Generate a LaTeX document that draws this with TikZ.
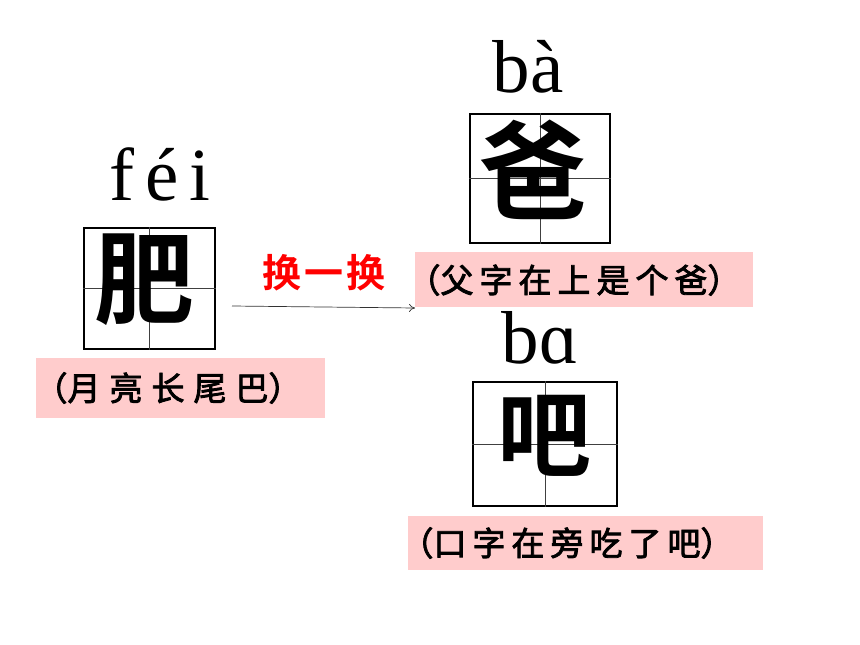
\documentclass[tikz,border=0pt]{standalone}
\usepackage{fontspec}
\usetikzlibrary{arrows.meta}
\setmainfont{Liberation Serif}
\newfontfamily\cjk[FakeBold=2.5]{Noto Sans CJK SC}
\newfontfamily\cjkb{Noto Sans CJK SC Bold}
\definecolor{pinkbg}{RGB}{255,204,204}
\definecolor{redtxt}{RGB}{255,0,0}
\newcommand{\gapA}{\hspace{9pt}}
\newcommand{\gapB}{\hspace{6pt}}
\begin{document}
\begin{tikzpicture}[x=1pt,y=-1pt,
  gridbox/.style={draw=black,line width=1.8pt,inner sep=0pt},
  gridline/.style={draw=black!75,line width=0.9pt},
  bigchar/.style={font=\cjkb\fontsize{100}{100}\selectfont,inner sep=0pt},
  pinyin/.style={font=\fontsize{75}{75}\selectfont,inner sep=0pt,anchor=base},
  hintbox/.style={fill=pinkbg,inner sep=0pt},
  hint/.style={font=\cjk\fontsize{33}{33}\selectfont,inner sep=0pt},
  swap/.style={font=\cjkb\fontsize{39}{39}\selectfont,text=redtxt,inner sep=0pt},
  conn/.style={draw=black!80,line width=0.7pt,-{To[length=6pt,width=8pt]}}]
\useasboundingbox (0,0) rectangle (860,645);

% left: fei
\node[pinyin] (pyfei) at (160,200) {f\hspace{11pt}é\hspace{11pt}i};
\node[gridbox,minimum width=131pt,minimum height=121pt] (gfei) at (149.5,288.5) {};
\draw[gridline] (gfei.north) -- (gfei.south);
\draw[gridline] (gfei.west) -- (gfei.east);
\node[bigchar] (cfei) at (144,280) {肥};
\node[hintbox,minimum width=289pt,minimum height=60pt] (hfei) at (180.5,388) {};
\node[hint] (tfei) at (168,388) {（月\gapA 亮\gapA 长\gapA 尾\gapA 巴）};

% swap label and arrow
\node[swap] (swapl) at (324,273) {换\hspace{3pt}一\hspace{3pt}换};
\coordinate (arrs) at (232,306);
\coordinate (arre) at (415,308);
\draw[conn] (arrs) -- (arre);

% top right: ba4
\node[pinyin] (pyba) at (528,92) {bà};
\node[gridbox,minimum width=140pt,minimum height=129pt] (gba) at (540,178.5) {};
\draw[gridline] (gba.north) -- (gba.south);
\draw[gridline] (gba.west) -- (gba.east);
\node[bigchar,font=\cjkb\fontsize{108}{108}\selectfont] (cba) at (533,170) {爸};
\node[hintbox,minimum width=338pt,minimum height=55pt] (hba) at (584,279.5) {};
\node[hint] (tba) at (574,280) {（父\gapB 字\gapB 在\gapB 上\gapB 是\gapB 个\gapB 爸）};

% bottom right: ba
\node[pinyin] (pyba2) at (540,363) {bɑ};
\node[gridbox,minimum width=144pt,minimum height=124pt] (gba2) at (545,444) {};
\draw[gridline] (gba2.north) -- (gba2.south);
\draw[gridline] (gba2.west) -- (gba2.east);
\node[bigchar,font=\cjkb\fontsize{94}{94}\selectfont] (cba2) at (544,436) {吧};
\node[hintbox,minimum width=355pt,minimum height=54pt] (hba2) at (585.5,543) {};
\node[hint] (tba2) at (567,543) {（口\gapB 字\gapB 在\gapB 旁\gapB 吃\gapB 了\gapB 吧）};
\end{tikzpicture}
\end{document}
